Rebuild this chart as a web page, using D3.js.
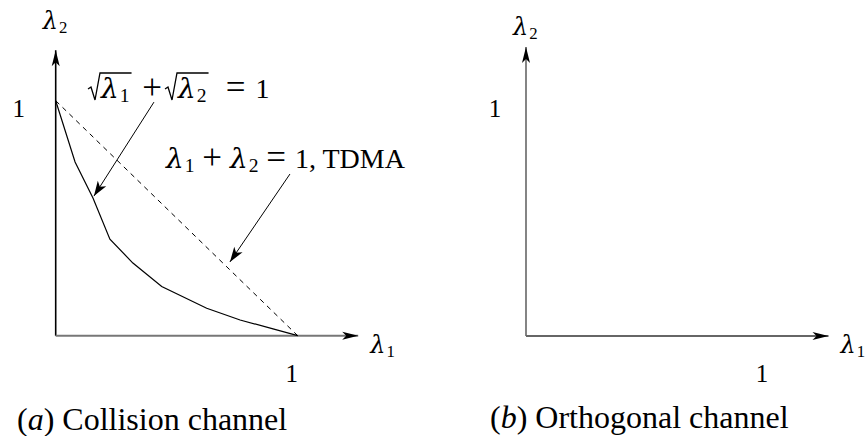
<!DOCTYPE html>
<html>
<head>
<meta charset="utf-8">
<script src="https://cdn.jsdelivr.net/npm/d3@7"></script>
<style>
  body { margin: 0; background: #fff; }
  svg text { font-family: "Liberation Serif", "Times New Roman", serif; fill: #000; }
  svg tspan.greek { font-family: "DejaVu Serif", serif; font-style: italic; }
</style>
</head>
<body>
<div id="chart"></div>
<script>
// boundary sqrt(l1) + sqrt(l2) = 1
const collisionL1 = [0, 0.08, 0.154, 0.224, 0.319, 0.438, 0.624, 0.762, 0.898, 1];
const collisionL2 = [1, 0.739, 0.586, 0.411, 0.309, 0.209, 0.117, 0.067, 0.029, 0];
// TDMA line l1 + l2 = 1
const tdmaL1 = [0, 1];
const tdmaL2 = [1, 0];
// axis extents (data units)
const axisEnd = { x: 1.25, y: 1.215 };
const tickLabels = ["1"];
const captions = ["Collision channel", "Orthogonal channel"];
const captionTags = ["a", "b"];

const width = 865, height = 436;
const svg = d3.select("#chart").append("svg")
    .attr("width", width)
    .attr("height", height);

// arrow heads
const defs = svg.append("defs");
defs.append("marker")
    .attr("id", "axisHead")
    .attr("markerUnits", "userSpaceOnUse")
    .attr("viewBox", "-17 -5 18 10")
    .attr("refX", 0).attr("refY", 0)
    .attr("markerWidth", 18).attr("markerHeight", 10)
    .attr("orient", "auto")
    .append("path")
    .attr("d", "M0,0 L-16,-4 L-12,0 L-16,4 Z")
    .attr("fill", "#000");
defs.append("marker")
    .attr("id", "noteHead")
    .attr("markerUnits", "userSpaceOnUse")
    .attr("viewBox", "-16 -6 17 12")
    .attr("refX", 0).attr("refY", 0)
    .attr("markerWidth", 17).attr("markerHeight", 12)
    .attr("orient", "auto")
    .append("path")
    .attr("d", "M0,0 L-15,-5 L-11,0 L-15,5 Z")
    .attr("fill", "#000");

// italic lambda with subscript, placed at x
function lambda(g, x, y, sub, size) {
    const t = g.append("text").attr("x", x).attr("y", y).attr("font-size", size);
    t.append("tspan").attr("class", "greek").text("λ");
    t.append("tspan").attr("font-size", size * 0.7).attr("dx", 1).attr("dy", size * 0.16).text(sub);
    return t;
}

function sym(g, cx, y, s, size) {
    g.append("text").attr("x", cx).attr("y", y).attr("font-size", size)
        .attr("text-anchor", "middle").text(s);
}

// radical sign with bar over the given text
function radical(g, x0, y, top, body) {
    const bb = body.node().getBBox();
    g.append("path")
        .attr("d", `M${x0},${y - 9} L${x0 + 3},${y - 11} L${x0 + 7},${y + 2} L${x0 + 12},${top} H${bb.x + bb.width + 2}`)
        .attr("fill", "none").attr("stroke", "#000").attr("stroke-width", 1.3);
}

function panel(ox, opts) {
    const x = d3.scaleLinear().domain([0, 1]).range([ox, ox + 242]);
    const y = d3.scaleLinear().domain([0, 1]).range([opts.oy, opts.oy - 235]);
    const g = svg.append("g");

    // axes
    g.append("line")
        .attr("x1", x(0)).attr("y1", y(0))
        .attr("x2", x(0)).attr("y2", y(opts.yEnd))
        .attr("stroke", opts.yColor).attr("stroke-width", 1.6)
        .attr("marker-end", "url(#axisHead)");
    g.append("line")
        .attr("x1", x(0)).attr("y1", y(0))
        .attr("x2", x(axisEnd.x)).attr("y2", y(0))
        .attr("stroke", opts.xColor).attr("stroke-width", 2)
        .attr("marker-end", "url(#axisHead)");

    // axis titles
    lambda(g, x(0) + opts.l2dx, opts.l2y, "2", 24);
    lambda(g, x(axisEnd.x) + 12, y(0) + 17, "1", 24);

    // "1" labels
    g.append("text").attr("x", x(0) + opts.oneYdx).attr("y", y(1) + 16)
        .attr("font-size", 25).attr("text-anchor", "middle").text(tickLabels[0]);
    g.append("text").attr("x", x(1) - 6).attr("y", y(0) + 46)
        .attr("font-size", 25).attr("text-anchor", "middle").text(tickLabels[0]);

    // caption
    const cap = g.append("text").attr("x", opts.capX).attr("y", opts.capY).attr("font-size", 32);
    cap.append("tspan").text("(");
    cap.append("tspan").attr("font-style", "italic").text(opts.tag);
    cap.append("tspan").text(") " + opts.caption);

    return { g, x, y };
}

// (a) collision channel
const a = panel(55.7, {
    oy: 335.7, yEnd: axisEnd.y, yColor: "#000", xColor: "#777",
    l2dx: -13, l2y: 29, oneYdx: -37, capX: 17, capY: 430,
    tag: captionTags[0], caption: captions[0]
});

const line = d3.line().x(d => a.x(d[0])).y(d => a.y(d[1]));
a.g.append("path")
    .datum(d3.zip(collisionL1, collisionL2))
    .attr("d", line)
    .attr("fill", "none").attr("stroke", "#000").attr("stroke-width", 1.2);
a.g.append("path")
    .datum(d3.zip(tdmaL1, tdmaL2))
    .attr("d", line)
    .attr("fill", "none").attr("stroke", "#000").attr("stroke-width", 1)
    .attr("stroke-dasharray", "5,4.5");

// annotations
const notes = [
    { from: [0.406, 0.994], to: [0.158, 0.594] },
    { from: [0.968, 0.688], to: [0.72, 0.314] }
];
notes.forEach(n => {
    a.g.append("line")
        .attr("x1", a.x(n.from[0])).attr("y1", a.y(n.from[1]))
        .attr("x2", a.x(n.to[0])).attr("y2", a.y(n.to[1]))
        .attr("stroke", "#000").attr("stroke-width", 1)
        .attr("marker-end", "url(#noteHead)");
});

// sqrt(l1) + sqrt(l2) = 1
const fs = 28, op = 35, b1 = 98;
radical(a.g, 88, b1, 73, lambda(a.g, 101, b1, "1", fs));
sym(a.g, 152, b1 + 1, "+", op);
radical(a.g, 165, b1, 73, lambda(a.g, 178, b1, "2", fs));
sym(a.g, 235.5, b1 + 1, "=", op);
sym(a.g, 262.5, b1, "1", fs);

// l1 + l2 = 1, TDMA
const b2 = 168;
lambda(a.g, 166, b2, "1", fs);
sym(a.g, 212, b2 + 1, "+", op);
lambda(a.g, 230, b2, "2", fs);
sym(a.g, 276, b2 + 1, "=", op);
a.g.append("text").attr("x", 295).attr("y", b2).attr("font-size", fs).text("1, TDMA");

// (b) orthogonal channel
panel(526, {
    oy: 336, yEnd: 1.23, yColor: "#666", xColor: "#666",
    l2dx: -13, l2y: 35, oneYdx: -31, capX: 490, capY: 428,
    tag: captionTags[1], caption: captions[1]
});
</script>
</body>
</html>
